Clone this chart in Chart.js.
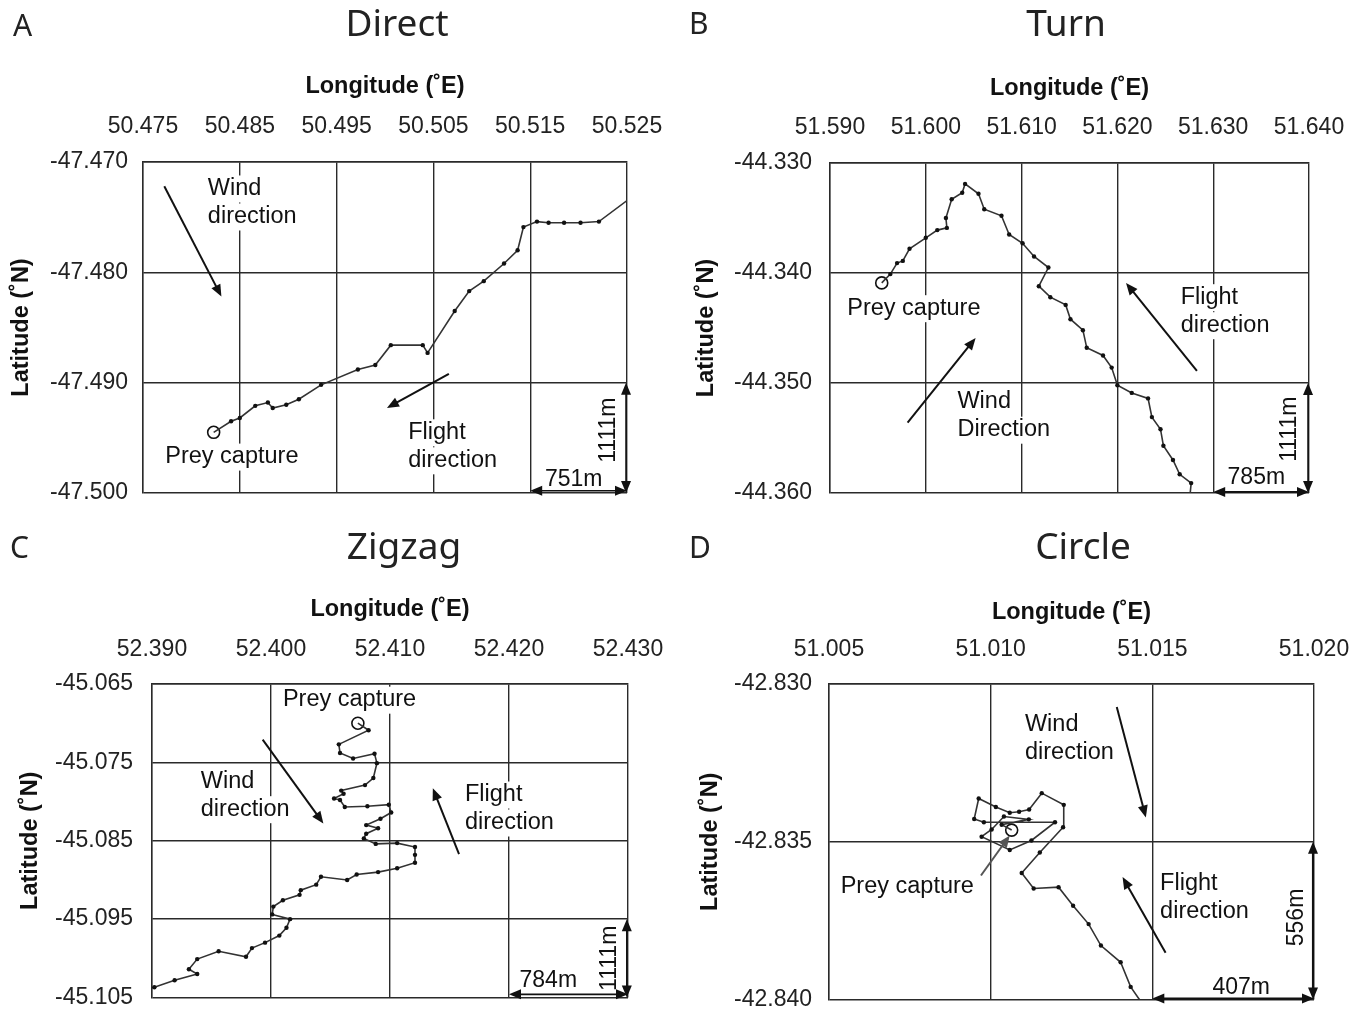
<!DOCTYPE html>
<html>
<head>
<meta charset="utf-8">
<script src="https://cdn.jsdelivr.net/npm/chart.js@4.4.1/dist/chart.umd.min.js"></script>
<style>
  html, body { margin: 0; padding: 0; background: #fff; }
  #wrap { position: relative; width: 1364px; height: 1028px; }
  #wrap canvas { position: absolute; left: 0; top: 0; }
</style>
</head>
<body>
<div id="wrap">
  <canvas id="pA" width="1364" height="1028"></canvas>
  <canvas id="pB" width="1364" height="1028"></canvas>
  <canvas id="pC" width="1364" height="1028"></canvas>
  <canvas id="pD" width="1364" height="1028"></canvas>
</div>
<script>
// A - Direct
const directLon = [50.4823, 50.4841, 50.4850, 50.4866, 50.4879, 50.4884, 50.4898, 50.4911, 50.4934, 50.4972,
                   50.4990, 50.5006, 50.5039, 50.5044, 50.5072, 50.5087, 50.5102, 50.5123, 50.5137, 50.5143,
                   50.5157, 50.5169, 50.5185, 50.5202, 50.5221, 50.5250];
const directLat = [-47.4945, -47.4935, -47.4932, -47.4921, -47.4918, -47.4923, -47.4920, -47.4915, -47.4902, -47.4888,
                   -47.4884, -47.4866, -47.4866, -47.4873, -47.4835, -47.4817, -47.4808, -47.4792, -47.4780, -47.4759,
                   -47.4754, -47.4755, -47.4755, -47.4755, -47.4754, -47.4735];
const directLonTicks = [50.475, 50.485, 50.495, 50.505, 50.515, 50.525];
const directLonLabels = ['50.475', '50.485', '50.495', '50.505', '50.515', '50.525'];
const directLatTicks = [-47.470, -47.480, -47.490, -47.500];
const directLatLabels = ['-47.470', '-47.480', '-47.490', '-47.500'];

// B - Turn
const turnLon = [51.5954, 51.5963, 51.5970, 51.5976, 51.5983, 51.6000, 51.6012, 51.6022, 51.6021, 51.6027,
                 51.6038, 51.6041, 51.6055, 51.6061, 51.6079, 51.6087, 51.6101, 51.6113, 51.6128, 51.6118,
                 51.6130, 51.6146, 51.6151, 51.6164, 51.6168, 51.6185, 51.6194, 51.6200, 51.6215, 51.6232,
                 51.6236, 51.6245, 51.6248, 51.6258, 51.6265, 51.6277, 51.6276];
const turnLat = [-44.3409, -44.3401, -44.3391, -44.3389, -44.3378, -44.3368, -44.3361, -44.3359, -44.3350, -44.3333,
                 -44.3327, -44.3319, -44.3328, -44.3342, -44.3348, -44.3365, -44.3373, -44.3385, -44.3395, -44.3412,
                 -44.3422, -44.3429, -44.3442, -44.3452, -44.3468, -44.3475, -44.3486, -44.3502, -44.3509, -44.3514,
                 -44.3531, -44.3542, -44.3557, -44.3570, -44.3583, -44.3591, -44.3600];
const turnLonTicks = [51.590, 51.600, 51.610, 51.620, 51.630, 51.640];
const turnLonLabels = ['51.590', '51.600', '51.610', '51.620', '51.630', '51.640'];
const turnLatTicks = [-44.330, -44.340, -44.350, -44.360];
const turnLatLabels = ['-44.330', '-44.340', '-44.350', '-44.360'];

// C - Zigzag
const zigzagLon = [52.4073, 52.4082, 52.4057, 52.4058, 52.4069, 52.4087, 52.4089, 52.4086, 52.4079, 52.4059,
                   52.4061, 52.4053, 52.4058, 52.4062, 52.4081, 52.4099, 52.4101, 52.4092, 52.4080, 52.4090,
                   52.4080, 52.4078, 52.4088, 52.4106, 52.4121, 52.4121, 52.4121, 52.4106, 52.4090, 52.4072,
                   52.4064, 52.4042, 52.4038, 52.4025, 52.4024, 52.4010, 52.4002, 52.4001, 52.4016, 52.4013,
                   52.4007, 52.3995, 52.3984, 52.3979, 52.3956, 52.3938, 52.3931, 52.3938, 52.3919, 52.3902,
                   52.3897];
const zigzagLat = [-45.0700, -45.0709, -45.0727, -45.0738, -45.0745, -45.0739, -45.0751, -45.0770, -45.0779, -45.0786,
                   -45.0790, -45.0796, -45.0798, -45.0807, -45.0806, -45.0804, -45.0814, -45.0822, -45.0830, -45.0834,
                   -45.0841, -45.0847, -45.0854, -45.0853, -45.0858, -45.0868, -45.0878, -45.0885, -45.0890, -45.0893,
                   -45.0900, -45.0896, -45.0906, -45.0913, -45.0919, -45.0926, -45.0934, -45.0944, -45.0950, -45.0961,
                   -45.0971, -45.0980, -45.0987, -45.0998, -45.0991, -45.1001, -45.1014, -45.1020, -45.1028, -45.1037,
                   -45.1038];
const zigzagLonTicks = [52.390, 52.400, 52.410, 52.420, 52.430];
const zigzagLonLabels = ['52.390', '52.400', '52.410', '52.420', '52.430'];
const zigzagLatTicks = [-45.065, -45.075, -45.085, -45.095, -45.105];
const zigzagLatLabels = ['-45.065', '-45.075', '-45.085', '-45.095', '-45.105'];

// D - Circle
const circleLon = [51.01460, 51.01433, 51.01402, 51.01341, 51.01303, 51.01255, 51.01210, 51.01133, 51.01096, 51.01152,
                   51.01224, 51.01226, 51.01158, 51.01119, 51.01088, 51.01059, 51.01016, 51.00963, 51.00949, 51.00979,
                   51.01199, 51.01126, 51.01059, 51.00972, 51.01003, 51.01041, 51.01118, 51.01034, 51.01065];
const circleLat = [-42.84000, -42.83960, -42.83882, -42.83829, -42.83761, -42.83703, -42.83644, -42.83648, -42.83599, -42.83534,
                   -42.83454, -42.83383, -42.83346, -42.83398, -42.83405, -42.83408, -42.83390, -42.83363, -42.83428, -42.83438,
                   -42.83438, -42.83496, -42.83526, -42.83484, -42.83461, -42.83420, -42.83429, -42.83446, -42.83463];
const circleLonTicks = [51.005, 51.010, 51.015, 51.020];
const circleLonLabels = ['51.005', '51.010', '51.015', '51.020'];
const circleLatTicks = [-42.830, -42.835, -42.840];
const circleLatLabels = ['-42.830', '-42.835', '-42.840'];

// prey capture positions, panels A-D
const preyLon = [50.4823, 51.5954, 52.4073, 51.01065];
const preyLat = [-47.4945, -44.3409, -45.0700, -42.83463];

const FONT = "'Liberation Sans', Arial, sans-serif";
const HEAD_FONT = "'Noto Sans', 'Open Sans', sans-serif";

function drawHead(ctx, x1, y1, x2, y2, len, wid) {
  const a = Math.atan2(y2 - y1, x2 - x1);
  const c = Math.cos(a), s = Math.sin(a);
  ctx.beginPath();
  ctx.moveTo(x2, y2);
  ctx.lineTo(x2 - len * c + wid / 2 * s, y2 - len * s - wid / 2 * c);
  ctx.lineTo(x2 - len * c - wid / 2 * s, y2 - len * s + wid / 2 * c);
  ctx.closePath();
  ctx.fill();
}

function drawArrow(ctx, x1, y1, x2, y2, both, color, lw) {
  const a = Math.atan2(y2 - y1, x2 - x1);
  const len = 12, wid = 10;
  ctx.strokeStyle = color;
  ctx.fillStyle = color;
  ctx.lineWidth = lw;
  ctx.beginPath();
  ctx.moveTo(both ? x1 + len * 0.7 * Math.cos(a) : x1, both ? y1 + len * 0.7 * Math.sin(a) : y1);
  ctx.lineTo(x2 - len * 0.7 * Math.cos(a), y2 - len * 0.7 * Math.sin(a));
  ctx.stroke();
  drawHead(ctx, x1, y1, x2, y2, len, wid);
  if (both) drawHead(ctx, x2, y2, x1, y1, len, wid);
}

// text, direction arrows and scale bars
const notes = {
  id: 'notes',
  beforeDatasetsDraw(chart, args, o) {
    const {ctx, scales: {x, y}} = chart;
    ctx.save();
    ctx.fillStyle = '#222';
    ctx.textBaseline = 'middle';
    ctx.font = '37px ' + HEAD_FONT;
    ctx.textAlign = 'center';
    ctx.fillText(o.heading, o.headingAt[0], o.headingAt[1]);
    ctx.font = '30px ' + HEAD_FONT;
    ctx.textAlign = 'left';
    ctx.fillText(o.letter, o.letterAt[0], o.letterAt[1]);

    ctx.font = '23.5px ' + FONT;
    o.labels.forEach(l => {
      const px = x.getPixelForValue(l.at[0]);
      let py = y.getPixelForValue(l.at[1]);
      ctx.textAlign = l.align || 'left';
      l.lines.forEach(t => {
        const w = ctx.measureText(t).width;
        const left = l.align === 'center' ? px - w / 2 : px;
        ctx.fillStyle = '#fff';
        ctx.fillRect(left - 3, py - 13, w + 6, 27);
        ctx.fillStyle = '#111';
        ctx.fillText(t, px, py);
        py += 28;
      });
    });
    ctx.restore();
  },
  afterDatasetsDraw(chart, args, o) {
    const {ctx, scales: {x, y}} = chart;
    ctx.save();
    o.arrows.forEach(a => {
      drawArrow(ctx, x.getPixelForValue(a[0]), y.getPixelForValue(a[1]),
                x.getPixelForValue(a[2]), y.getPixelForValue(a[3]), false, a[4] || '#111', 2);
    });
    ctx.font = '23px ' + FONT;
    ctx.textAlign = 'center';
    ctx.textBaseline = 'middle';
    o.bars.forEach(b => {
      drawArrow(ctx, x.getPixelForValue(b.from[0]), y.getPixelForValue(b.from[1]),
                x.getPixelForValue(b.to[0]), y.getPixelForValue(b.to[1]), true, '#111', o.barWidth || 1.6);
      const tx = x.getPixelForValue(b.textAt[0]), ty = y.getPixelForValue(b.textAt[1]);
      ctx.fillStyle = '#111';
      ctx.save();
      ctx.translate(tx, ty);
      if (b.rotate) ctx.rotate(-Math.PI / 2);
      ctx.fillText(b.text, 0, 0);
      ctx.restore();
    });
    ctx.restore();
  }
};

function panel(id, p) {
  const track = p.lon.map((v, i) => ({x: v, y: p.lat[i]}));
  new Chart(document.getElementById(id), {
    type: 'scatter',
    data: {
      datasets: [{
        data: track,
        showLine: true,
        borderColor: '#333',
        borderWidth: 1.6,
        pointRadius: c => (c.dataIndex === p.preyIndex || c.dataIndex === p.noDot) ? 0 : 2.2,
        pointBackgroundColor: '#111',
        pointBorderWidth: 0
      }, {
        data: [{x: preyLon[p.prey], y: preyLat[p.prey]}],
        pointRadius: 6,
        pointBackgroundColor: '#fff',
        pointBorderColor: '#111',
        pointBorderWidth: 1.6
      }]
    },
    options: {
      responsive: false,
      animation: false,
      events: [],
      layout: {
        padding: {left: p.origin[0], top: p.origin[1], right: 1364 - p.area[2], bottom: 1028 - p.area[3]}
      },
      scales: {
        x: {
          type: 'linear',
          position: 'top',
          min: p.xTicks[0],
          max: p.xTicks[p.xTicks.length - 1],
          afterBuildTicks: s => { s.ticks = p.xTicks.map(v => ({value: v})); },
          afterFit: s => { s.height = p.area[1] - p.origin[1]; },
          ticks: {
            font: {family: FONT, size: 23, lineHeight: 1.2},
            color: '#222',
            padding: 0,
            maxRotation: 0,
            autoSkip: false,
            callback: (v, i) => p.xLabels[i]
          },
          // invisible tick marks give the label gap without widening the side padding
          grid: {color: '#2a2a2a', lineWidth: 1.4, drawTicks: true, tickLength: p.xTickPad, tickColor: 'rgba(0,0,0,0)'},
          border: {display: true, color: '#2a2a2a', width: 1.4},
          title: {
            display: true,
            text: 'Longitude (˚E)',
            font: {family: FONT, size: 23.5, weight: 'bold', lineHeight: 1.2},
            color: '#111',
            padding: {top: p.xTitlePad, bottom: 0}
          }
        },
        y: {
          type: 'linear',
          position: 'left',
          min: p.yTicks[p.yTicks.length - 1],
          max: p.yTicks[0],
          afterBuildTicks: s => { s.ticks = p.yTicks.slice().reverse().map(v => ({value: v})); },
          afterFit: s => { s.width = p.area[0] - p.origin[0]; },
          ticks: {
            font: {family: FONT, size: 23, lineHeight: 1},
            color: '#222',
            padding: p.yTickPad,
            autoSkip: false,
            callback: (v, i) => p.yLabels[p.yLabels.length - 1 - i]
          },
          grid: {color: '#2a2a2a', lineWidth: 1.4, drawTicks: false},
          border: {display: true, color: '#2a2a2a', width: 1.4},
          title: {
            display: true,
            text: 'Latitude (˚N)',
            font: {family: FONT, size: 23.5, weight: 'bold', lineHeight: 1.2},
            color: '#111',
            padding: {top: p.yTitlePad, bottom: 0}
          }
        }
      },
      plugins: {
        legend: {display: false},
        tooltip: {enabled: false},
        notes: p.notes
      }
    },
    plugins: [notes]
  });
}

panel('pA', {
  lon: directLon, lat: directLat, prey: 0, preyIndex: 0, noDot: directLon.length - 1,
  xTicks: directLonTicks, xLabels: directLonLabels, yTicks: directLatTicks, yLabels: directLatLabels,
  origin: [0, 0], area: [143, 162, 627, 493],
  xTickPad: 21.2, xTitlePad: 72.9, yTickPad: 15, yTitlePad: 7.9,
  notes: {
    heading: 'Direct', headingAt: [397, 25], letter: 'A', letterAt: [13, 27],
    labels: [
      {lines: ['Wind', 'direction'], at: [50.4817, -47.4724]},
      {lines: ['Flight', 'direction'], at: [50.5024, -47.4945]},
      {lines: ['Prey capture'], at: [50.4773, -47.4967]}
    ],
    arrows: [
      [50.4772, -47.4722, 50.4831, -47.4822],
      [50.5066, -47.4892, 50.5002, -47.4923]
    ],
    bars: [
      {from: [50.515, -47.4998], to: [50.525, -47.4998], text: '751m', textAt: [50.5195, -47.4988]},
      {from: [50.5249, -47.490], to: [50.5249, -47.500], text: '1111m', textAt: [50.5231, -47.4943], rotate: true}
    ]
  }
});

panel('pB', {
  lon: turnLon, lat: turnLat, prey: 1, preyIndex: 0, noDot: turnLon.length - 1,
  xTicks: turnLonTicks, xLabels: turnLonLabels, yTicks: turnLatTicks, yLabels: turnLatLabels,
  origin: [682, 0], area: [830, 163, 1309, 493],
  xTickPad: 21.2, xTitlePad: 74.9, yTickPad: 18, yTitlePad: 10.9,
  notes: {
    heading: 'Turn', headingAt: [1066, 25], letter: 'B', letterAt: [689, 25],
    labels: [
      {lines: ['Wind', 'Direction'], at: [51.6033, -44.3517]},
      {lines: ['Flight', 'direction'], at: [51.6266, -44.3422]},
      {lines: ['Prey capture'], at: [51.5918, -44.3432]}
    ],
    arrows: [
      [51.5981, -44.3536, 51.6052, -44.3459],
      [51.6283, -44.3489, 51.6209, -44.3409]
    ],
    bars: [
      {from: [51.630, -44.3599], to: [51.640, -44.3599], text: '785m', textAt: [51.6345, -44.3586]},
      {from: [51.6399, -44.350], to: [51.6399, -44.360], text: '1111m', textAt: [51.6380, -44.3542], rotate: true}
    ]
  }
});

panel('pC', {
  lon: zigzagLon, lat: zigzagLat, prey: 2, preyIndex: 0, noDot: -1,
  xTicks: zigzagLonTicks, xLabels: zigzagLonLabels, yTicks: zigzagLatTicks, yLabels: zigzagLatLabels,
  origin: [0, 516], area: [152, 684, 628, 1016],
  xTickPad: 20.2, xTitlePad: 79.9, yTickPad: 19, yTitlePad: 16.9,
  notes: {
    heading: 'Zigzag', headingAt: [404, 548], letter: 'C', letterAt: [10, 549],
    labels: [
      {lines: ['Wind', 'direction'], at: [52.3941, -45.0774]},
      {lines: ['Flight', 'direction'], at: [52.4163, -45.0791]},
      {lines: ['Prey capture'], at: [52.4066, -45.0670], align: 'center'}
    ],
    arrows: [
      [52.3993, -45.0721, 52.4044, -45.0828],
      [52.4158, -45.0867, 52.4136, -45.0783]
    ],
    bars: [
      {from: [52.420, -45.1046], to: [52.430, -45.1046], text: '784m', textAt: [52.4233, -45.1029]},
      {from: [52.4299, -45.095], to: [52.4299, -45.105], text: '1111m', textAt: [52.4285, -45.1000], rotate: true}
    ]
  }
});

panel('pD', {
  lon: circleLon, lat: circleLat, prey: 3, preyIndex: circleLon.length - 1, noDot: 0,
  xTicks: circleLonTicks, xLabels: circleLonLabels, yTicks: circleLatTicks, yLabels: circleLatLabels,
  origin: [682, 516], area: [829, 684, 1314, 1015],
  xTickPad: 20.2, xTitlePad: 82.9, yTickPad: 17, yTitlePad: 14.9,
  notes: {
    heading: 'Circle', headingAt: [1083, 548], letter: 'D', letterAt: [689, 549],
    labels: [
      {lines: ['Wind', 'direction'], at: [51.01106, -42.83129]},
      {lines: ['Flight', 'direction'], at: [51.01524, -42.83631]},
      {lines: ['Prey capture'], at: [51.00536, -42.83643]}
    ],
    arrows: [
      [51.01390, -42.83073, 51.01480, -42.83423],
      [51.01541, -42.83852, 51.01408, -42.83612],
      [51.00970, -42.83607, 51.01059, -42.83480, '#555']
    ],
    barWidth: 2.2,
    bars: [
      {from: [51.015, -42.83997], to: [51.020, -42.83997], text: '407m', textAt: [51.01775, -42.83963]},
      {from: [51.01997, -42.835], to: [51.01997, -42.840], text: '556m', textAt: [51.01947, -42.83740], rotate: true}
    ]
  }
});
</script>
</body>
</html>
